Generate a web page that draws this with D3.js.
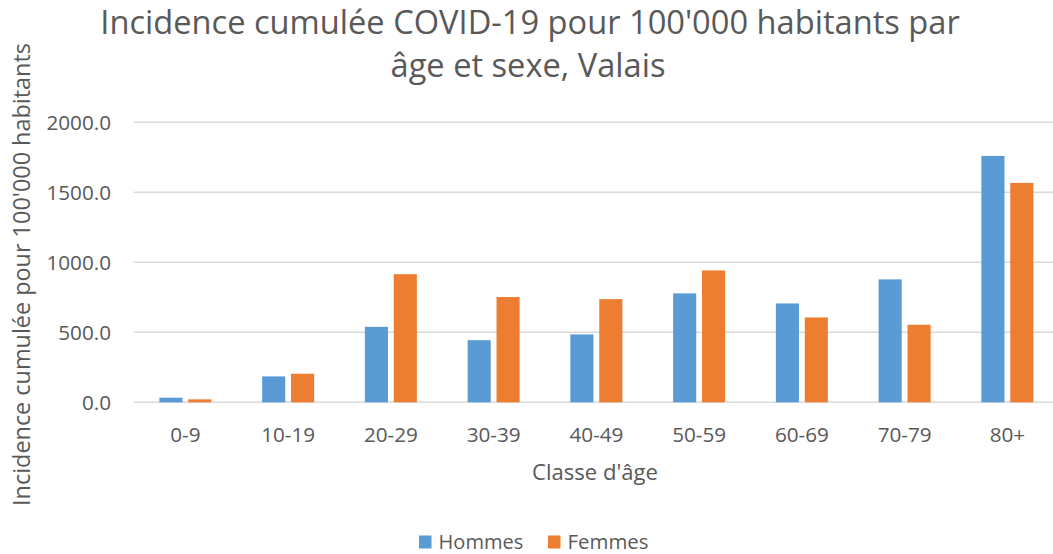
<!DOCTYPE html>
<html><head><meta charset="utf-8">
<script src="https://cdn.jsdelivr.net/npm/d3@7"></script>
<style>body{margin:0;background:#fff}svg{display:block}</style>
</head><body>
<script>
const categories = ["0-9","10-19","20-29","30-39","40-49","50-59","60-69","70-79","80+"];
const seriesNames = ["Hommes","Femmes"];
const hommes = [33,185,539,444,485,778,706,878,1760];
const femmes = [21,204,915,752,737,942,606,554,1567];
const yTicks = [0,500,1000,1500,2000];
const colors = ["#5B9BD5","#ED7D31"];
const titleLines = ["Incidence cumulée COVID-19 pour 100'000 habitants par","âge et sexe, Valais"];

const W=1053,H=554;
const font="'Open Sans', sans-serif";
const txt="#595959";
const svg=d3.select("body").append("svg").attr("width",W).attr("height",H);

function fit(sel, target){
  const fs=parseFloat(sel.attr("font-size"));
  const w=sel.node().getComputedTextLength();
  sel.attr("font-size",fs*target/w);
  return fs*target/w;
}

const plot={left:134,right:1058.75,top:122.3,bottom:402.3};
const x=d3.scaleBand().domain(categories).range([plot.left,plot.right]).padding(0);
const y=d3.scaleLinear().domain([0,2000]).range([plot.bottom,plot.top]);
const x1=d3.scaleBand().domain(seriesNames).range([0,52]).paddingInner(0.2);
const off=(x.bandwidth()-52)/2;

// gridlines
svg.append("g").selectAll("line").data(yTicks).join("line")
 .attr("x1",plot.left).attr("x2",plot.right)
 .attr("y1",d=>y(d)).attr("y2",d=>y(d))
 .attr("stroke","#d9d9d9").attr("stroke-width",1.5);

// y axis labels
const tickFs=20.7;
const yAxis=d3.axisLeft(y).tickValues(yTicks).tickFormat(d3.format(".1f")).tickSize(0).tickPadding(0);
const ya=svg.append("g").attr("transform",`translate(${plot.left-23},0)`).call(yAxis);
ya.select(".domain").remove();
ya.attr("font-size",null).attr("font-family",null);
ya.selectAll("text").attr("font-family",font).attr("font-size",tickFs).attr("fill",txt).attr("dy","0.35em");

// bars
const data=categories.map((c,i)=>({c,vals:[hommes[i],femmes[i]]}));
const g=svg.append("g");
g.selectAll("g").data(data).join("g")
 .attr("transform",d=>`translate(${x(d.c)+off},0)`)
 .selectAll("rect").data(d=>d.vals.map((v,j)=>({s:seriesNames[j],v,j}))).join("rect")
 .attr("x",d=>x1(d.s)).attr("width",x1.bandwidth())
 .attr("y",d=>y(d.v)).attr("height",d=>y(0)-y(d.v))
 .attr("fill",d=>colors[d.j]);

// x axis labels
const xAxis=d3.axisBottom(x).tickSize(0).tickPadding(0);
const xa=svg.append("g").attr("transform",`translate(0,${plot.bottom})`).call(xAxis);
xa.select(".domain").remove();
xa.attr("font-size",null).attr("font-family",null);
xa.selectAll("text").attr("font-family",font).attr("font-size",tickFs).attr("fill",txt).attr("y",442-plot.bottom).attr("dy",0);

// x axis title
const xt=svg.append("text").attr("x",595).attr("y",480).attr("text-anchor","middle")
 .attr("font-family",font).attr("font-size",20).attr("fill",txt).text("Classe d'âge");
fit(xt,126);

// y axis title
const yt=svg.append("text").attr("transform","translate(30,274.5) rotate(-90)").attr("text-anchor","middle")
 .attr("font-family",font).attr("font-size",20).attr("fill",txt).text("Incidence cumulée pour 100'000 habitants");
fit(yt,463);

// title
const t1=svg.append("text").attr("x",530).attr("y",34).attr("text-anchor","middle")
 .attr("font-family",font).attr("font-size",31).attr("fill",txt).text(titleLines[0]);
const t2=svg.append("text").attr("x",528).attr("y",77).attr("text-anchor","middle")
 .attr("font-family",font).attr("font-size",31).attr("fill",txt).text(titleLines[1]);
const fs=fit(t1,860);
t2.attr("font-size",fs);

// legend
const leg=svg.append("g");
const legX=[419,548];
const legW=[85,81];
seriesNames.forEach((s,i)=>{
  leg.append("rect").attr("x",legX[i]).attr("y",535.5).attr("width",12.5).attr("height",13).attr("fill",colors[i]);
  const t=leg.append("text").attr("x",legX[i]+19.5).attr("y",548.5).attr("font-family",font).attr("font-size",20).attr("fill",txt).text(s);
  fit(t,legW[i]);
});
</script>
</body></html>
